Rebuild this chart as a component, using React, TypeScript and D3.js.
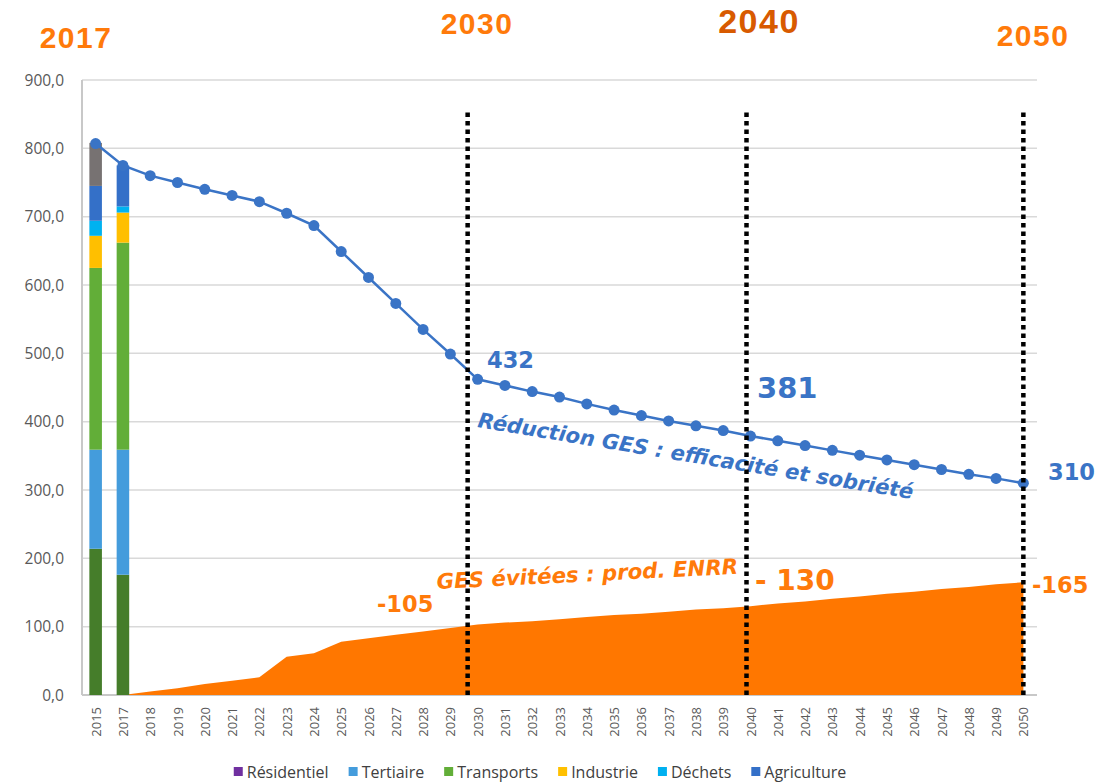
import React, { useRef, useEffect } from "react";
import * as d3 from "d3";

// categories on the x axis (2016 is missing in the source chart)
const years = [
  "2015", "2017", "2018", "2019", "2020", "2021", "2022", "2023", "2024", "2025",
  "2026", "2027", "2028", "2029", "2030", "2031", "2032", "2033", "2034", "2035",
  "2036", "2037", "2038", "2039", "2040", "2041", "2042", "2043", "2044", "2045",
  "2046", "2047", "2048", "2049", "2050",
];

// GES trajectory (efficacité et sobriété), one value per year
const emissions = [
  807, 775, 760, 750, 740, 731, 722, 705, 687, 649,
  611, 573, 535, 499, 462, 453, 444, 436, 426, 417,
  409, 401, 394, 387, 379, 372, 365, 358, 351, 344,
  337, 330, 323, 317, 310,
];

// GES évitées (prod. ENRR), from 2017 on
const avoidedYears = years.slice(1);
const avoided = [
  0, 5, 10, 16, 21, 26, 56, 61, 78, 83,
  88, 93, 98, 103, 106, 108, 111, 114, 117, 119,
  122, 125, 127, 130, 134, 137, 141, 144, 148, 151,
  155, 158, 162, 165,
];

// stacked sector bars for the two inventory years
const barYears = ["2015", "2017"];
const baseSector = [214, 176];
const tertiaire = [145, 183];
const transports = [266, 303];
const industrie = [47, 44];
const dechets = [22, 9];
const agriculture = [51, 60];
const autres = [63, 0];

const legendLabels = ["Résidentiel", "Tertiaire", "Transports", "Industrie", "Déchets", "Agriculture"];
const legendColors = ["#7030a0", "#449cdc", "#62ae38", "#ffc000", "#00b0f0", "#3470c8"];

const yTicks = [0, 100, 200, 300, 400, 500, 600, 700, 800, 900];
const milestones = ["2030", "2040", "2050"];

const BLUE = "#3a74c6";
const ORANGE = "#ff7a0a";

function App() {
  const ref = useRef(null);

  useEffect(() => {
    const svg = d3.select(ref.current);
    svg.selectAll("*").remove();

    const left = 82, right = 1037, top = 80, bottom = 695;
    const x = d3.scaleBand().domain(years).range([left, right]);
    const y = d3.scaleLinear().domain([0, 900]).range([bottom, top]);
    const cx = (d) => x(d) + x.bandwidth() / 2;
    const fmt = (v) => d3.format(".1f")(v).replace(".", ",");

    // grid
    svg.append("g")
      .selectAll("line")
      .data(yTicks.filter((t) => t > 0))
      .join("line")
      .attr("x1", left).attr("x2", right)
      .attr("y1", (d) => y(d)).attr("y2", (d) => y(d))
      .attr("stroke", "#d9d9d9").attr("stroke-width", 1.5);

    // axis lines
    svg.append("line")
      .attr("x1", left).attr("x2", left).attr("y1", y(900)).attr("y2", y(0))
      .attr("stroke", "#c8c8c8").attr("stroke-width", 2);
    svg.append("line")
      .attr("x1", left).attr("x2", right).attr("y1", y(0)).attr("y2", y(0))
      .attr("stroke", "#c8c8c8").attr("stroke-width", 2);

    // y tick labels
    svg.append("g")
      .selectAll("text")
      .data(yTicks)
      .join("text")
      .attr("x", 64).attr("y", (d) => y(d) + 5.5)
      .attr("text-anchor", "end")
      .attr("font-family", "'Open Sans', sans-serif").attr("font-size", 15.5)
      .attr("fill", "#595959")
      .text(fmt);

    // x tick labels (vertical)
    svg.append("g")
      .selectAll("text")
      .data(years)
      .join("text")
      .attr("transform", (d) => `translate(${cx(d) + 5},707) rotate(-90)`)
      .attr("text-anchor", "end")
      .attr("font-family", "'Open Sans', sans-serif").attr("font-size", 13)
      .attr("fill", "#595959")
      .text((d) => d);

    // avoided emissions area
    const area = d3.area()
      .x((d, i) => cx(avoidedYears[i]))
      .y0(y(0))
      .y1((d) => y(d));
    svg.append("path").datum(avoided).attr("d", area).attr("fill", "#ff7700");

    // stacked bars
    const stackSeries = [
      { values: baseSector, color: "#457d2a" },
      { values: tertiaire, color: "#449cdc" },
      { values: transports, color: "#62ae38" },
      { values: industrie, color: "#ffbf00" },
      { values: dechets, color: "#00b2f0" },
      { values: agriculture, color: "#3470c8" },
      { values: autres, color: "#777272" },
    ];
    const bw = x.bandwidth() * 0.46;
    barYears.forEach((yr, i) => {
      let acc = 0;
      stackSeries.forEach((s) => {
        const v = s.values[i];
        if (!v) return;
        svg.append("rect")
          .attr("x", cx(yr) - bw / 2)
          .attr("width", bw)
          .attr("y", y(acc + v))
          .attr("height", y(acc) - y(acc + v))
          .attr("fill", s.color);
        acc += v;
      });
    });

    // trajectory line + markers
    const line = d3.line()
      .x((d, i) => cx(years[i]))
      .y((d) => y(d));
    svg.append("path").datum(emissions).attr("d", line)
      .attr("fill", "none").attr("stroke", BLUE).attr("stroke-width", 2.5);
    svg.append("g")
      .selectAll("circle")
      .data(emissions)
      .join("circle")
      .attr("cx", (d, i) => cx(years[i]))
      .attr("cy", (d) => y(d))
      .attr("r", 5.5)
      .attr("fill", BLUE);

    // annotations
    const label = (txt, px, py, size, color, opts = {}) => {
      const t = svg.append("text")
        .attr("x", px).attr("y", py)
        .attr("font-family", opts.family || "'DejaVu Sans', sans-serif")
        .attr("font-weight", "bold")
        .attr("font-size", size)
        .attr("fill", color)
        .attr("text-anchor", opts.anchor || "start")
        .text(txt);
      if (opts.spacing) t.attr("letter-spacing", opts.spacing);
      if (opts.italic) t.attr("font-style", "italic");
      if (opts.rotate) t.attr("transform", `rotate(${opts.rotate},${px},${py})`);
      return t;
    };

    const head = { family: "'Liberation Sans', Arial, sans-serif", anchor: "middle", spacing: 1.5 };
    label("2017", 76, 48, 30, ORANGE, head);
    label("2030", 477, 34, 30, ORANGE, head);
    label("2040", 759, 33, 34, "#d85a00", head);
    label("2050", 1033, 46, 30, ORANGE, head);

    label("432", 487, 368, 22.5, BLUE);
    label("381", 757, 398, 29, BLUE);
    label("310", 1048, 480, 22.5, BLUE);
    label("Réduction GES : efficacité et sobriété", 477, 427, 21, BLUE, { italic: true, rotate: 9.4 });

    label("-105", 377, 612, 22.5, ORANGE);
    label("- 130", 755, 590, 28, ORANGE);
    label("-165", 1032, 593, 22.5, ORANGE);
    label("GES évitées : prod. ENRR", 437, 589, 21.3, ORANGE, { italic: true, rotate: -2.9 });

    // milestone dotted lines
    const offsets = { "2030": -10, "2040": -4, "2050": 0 };
    svg.append("g")
      .selectAll("line")
      .data(milestones)
      .join("line")
      .attr("x1", (d) => cx(d) + offsets[d]).attr("x2", (d) => cx(d) + offsets[d])
      .attr("y1", y(0)).attr("y2", y(855))
      .attr("stroke", "#000").attr("stroke-width", 4.5)
      .attr("stroke-dasharray", "4.5,4");

    // legend
    const lg = svg.append("g");
    let pos = 0;
    legendLabels.forEach((name, i) => {
      const g = lg.append("g");
      g.append("rect").attr("x", 0).attr("y", -5).attr("width", 9).attr("height", 9)
        .attr("fill", legendColors[i]);
      const t = g.append("text").attr("x", 13).attr("y", 5.5)
        .attr("font-family", "'Open Sans', sans-serif").attr("font-size", 16)
        .attr("fill", "#404040").text(name);
      const w = 13 + t.node().getComputedTextLength();
      g.attr("transform", `translate(${pos},0)`);
      pos += w + 20;
    });
    const total = pos - 20;
    lg.attr("transform", `translate(${540 - total / 2},772)`);
  }, []);

  return (
    <svg
      ref={ref}
      width={1115}
      height={783}
      style={{ position: "absolute", left: 0, top: 0, background: "#fff" }}
    />
  );
}

export default App;
